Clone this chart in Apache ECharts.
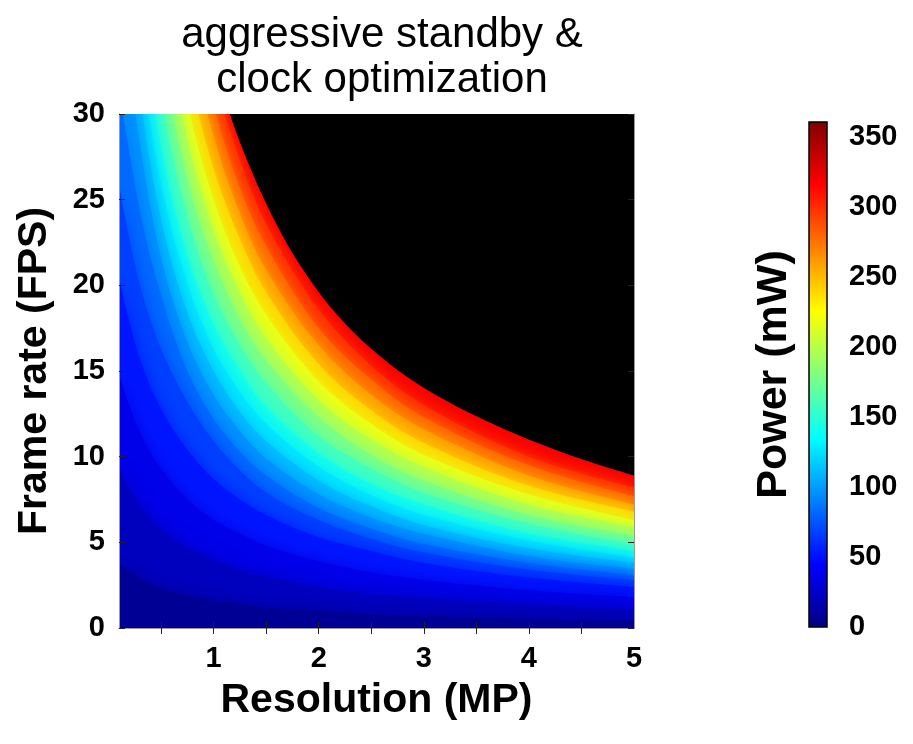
<!doctype html>
<meta charset="utf-8">
<style>
  html, body { margin: 0; padding: 0; width: 100%; height: 100%; background: #fff; }
  #chart { width: 913px; height: 744px; }
</style>
<script src="https://cdn.jsdelivr.net/npm/echarts@6/dist/echarts.min.js"></script>

<div id="chart"></div>

<script>
  const resolution = [0.1, 0.3, 0.5, 0.75, 1, 1.25, 1.5, 2, 2.5, 3, 4, 5];

  // power levels of the contours (mW)
  const powerLevels = [15, 30, 45, 60, 75, 90, 105, 120, 135, 150, 170, 190, 210, 230, 250, 270, 290, 310];

  // frame rate (FPS) where each power contour crosses each resolution column
  const fpsAt15  = [3.7, 2.9, 2.3, 1.9, 1.6, 1.4, 1.2, 1.0, 0.8, 0.7, 0.55, 0.45];
  const fpsAt30  = [9.3, 7.1, 5.8, 4.7, 4.0, 3.4, 3.0, 2.4, 2.0, 1.75, 1.4, 1.1];
  const fpsAt45  = [14.8, 11.4, 9.3, 7.5, 6.3, 5.5, 4.8, 3.9, 3.25, 2.8, 2.2, 1.8];
  const fpsAt60  = [20.4, 15.7, 12.8, 10.4, 8.7, 7.5, 6.6, 5.3, 4.5, 3.8, 2.95, 2.4];
  const fpsAt75  = [25.9, 20.0, 16.3, 13.2, 10.9, 9.2, 7.9, 6.3, 5.2, 4.4, 3.4, 2.8];
  const fpsAt90  = [31.5, 24.3, 19.4, 15.0, 12.2, 10.3, 8.9, 7.0, 5.8, 4.9, 3.8, 3.1];
  const fpsAt105 = [37.0, 28.2, 21.6, 16.7, 13.6, 11.5, 9.9, 7.8, 6.45, 5.5, 4.2, 3.45];
  const fpsAt120 = [42.6, 31.1, 23.8, 18.4, 15.0, 12.6, 10.9, 8.6, 7.1, 6.0, 4.65, 3.8];
  const fpsAt135 = [48.1, 33.9, 25.9, 20.1, 16.3, 13.8, 11.9, 9.4, 7.75, 6.6, 5.1, 4.1];
  const fpsAt150 = [53.0, 36.7, 28.1, 21.7, 17.7, 15.0, 12.9, 10.2, 8.4, 7.2, 5.5, 4.5];
  const fpsAt170 = [58.5, 40.5, 31.0, 24.0, 19.5, 16.5, 14.3, 11.2, 9.3, 7.9, 6.1, 4.9];
  const fpsAt190 = [63.9, 44.3, 33.9, 26.2, 21.4, 18.0, 15.6, 12.3, 10.1, 8.6, 6.6, 5.4];
  const fpsAt210 = [69.4, 48.1, 36.8, 28.5, 23.2, 19.6, 16.9, 13.3, 11.0, 9.4, 7.2, 5.9];
  const fpsAt230 = [74.9, 51.9, 39.7, 30.7, 25.0, 21.1, 18.3, 14.4, 11.9, 10.1, 7.8, 6.3];
  const fpsAt250 = [80.3, 55.7, 42.6, 32.9, 26.8, 22.7, 19.6, 15.4, 12.7, 10.8, 8.3, 6.8];
  const fpsAt270 = [85.8, 59.5, 45.5, 35.2, 28.7, 24.2, 20.9, 16.5, 13.6, 11.6, 8.9, 7.2];
  const fpsAt290 = [91.3, 63.3, 48.4, 37.4, 30.5, 25.7, 22.3, 17.5, 14.5, 12.3, 9.5, 7.7];
  const fpsAt310 = [96.7, 67.0, 51.3, 39.7, 32.3, 27.3, 23.6, 18.6, 15.3, 13.0, 10.0, 8.2];
  const contourFps = [fpsAt15, fpsAt30, fpsAt45, fpsAt60, fpsAt75, fpsAt90, fpsAt105, fpsAt120, fpsAt135,
                      fpsAt150, fpsAt170, fpsAt190, fpsAt210, fpsAt230, fpsAt250, fpsAt270, fpsAt290, fpsAt310];

  // edge of the black (not reachable) region
  const limitRes = [1.0, 1.155, 1.38, 1.62, 1.82, 2.13, 2.5, 2.98, 3.66, 4.34, 5];
  const limitFps = [33.5, 30, 26.4, 23.3, 21.2, 18.6, 16.3, 14.1, 11.9, 10.2, 8.9];

  // axes
  const xLabels = [1, 2, 3, 4, 5];
  const xTicks = [0.5, 1, 1.5, 2, 2.5, 3, 3.5, 4, 4.5];
  const colorbarMax = 361;

  const FONT = 'Liberation Sans';

  // matlab jet colormap
  function jet(v) {
    let x = v / colorbarMax;
    let c = t => Math.round(255 * Math.max(0, Math.min(1, t)));
    return 'rgb(' + c(Math.min(4 * x - 1.5, -4 * x + 4.5)) + ',' +
      c(Math.min(4 * x - 0.5, -4 * x + 3.5)) + ',' +
      c(Math.min(4 * x + 0.5, -4 * x + 2.5)) + ')';
  }
  const jetStops = [0, 1 / 8, 3 / 8, 5 / 8, 7 / 8, 1].map(o => ({ offset: o, color: jet(o * colorbarMax) }));

  // filled contours: highest level first, each lower one painted over it
  let series = [];
  for (let i = powerLevels.length - 1; i >= 0; i--) {
    let band = jet(((i > 0 ? powerLevels[i - 1] : 0) + powerLevels[i]) / 2);
    series.push({
      type: 'line',
      data: resolution.map((r, j) => [r, contourFps[i][j]]),
      smooth: 0.35,
      symbol: 'none',
      silent: true,
      lineStyle: { width: 0 },
      areaStyle: { color: band, opacity: 1, origin: 'start', shadowColor: band, shadowBlur: 16 }
    });
  }
  series.push({
    type: 'line',
    data: limitRes.map((r, j) => [r, limitFps[j]]),
    smooth: 0.35,
    symbol: 'none',
    silent: true,
    lineStyle: { width: 0 },
    areaStyle: { color: '#000', opacity: 1, origin: 'end' }
  });
  // colour bar
  series.push({
    type: 'custom',
    xAxisIndex: 2,
    yAxisIndex: 2,
    silent: true,
    data: [[0, colorbarMax]],
    renderItem: function (params, api) {
      let p0 = api.coord([0, 0]);
      let p1 = api.coord([1, colorbarMax]);
      return {
        type: 'rect',
        shape: { x: p0[0], y: p1[1], width: p1[0] - p0[0], height: p0[1] - p1[1] },
        style: {
          fill: new echarts.graphic.LinearGradient(0, 1, 0, 0, jetStops),
          stroke: '#000',
          lineWidth: 1.5
        }
      };
    }
  });

  const tickLabel = { fontFamily: FONT, fontWeight: 'bold', fontSize: 29, color: '#000' };
  const axisName = { fontFamily: FONT, fontWeight: 'bold', fontSize: 41, color: '#000' };
  const innerTick = { show: true, inside: true, length: 6, lineStyle: { color: '#222', width: 1 } };
  const frame = { show: true, lineStyle: { color: '#999', width: 1 } };

  let chart = echarts.init(document.getElementById('chart'));
  chart.setOption({
    animation: false,
    backgroundColor: '#fff',
    title: {
      text: 'aggressive standby &\nclock optimization',
      left: 377,
      top: 8,
      textAlign: 'center',
      textStyle: { fontFamily: FONT, fontWeight: 'normal', fontSize: 42, lineHeight: 45, color: '#000' }
    },
    grid: [
      { left: 119, top: 114, width: 515, height: 514, show: true, backgroundColor: jet(318), borderWidth: 0 },
      { left: 809, top: 122, width: 18, height: 505 }
    ],
    xAxis: [
      {
        type: 'value', gridIndex: 0, min: 0.1, max: 5, position: 'bottom', z: 10,
        axisLine: frame,
        axisTick: Object.assign({ customValues: xTicks }, innerTick),
        axisLabel: Object.assign({ customValues: xLabels, margin: 16 }, tickLabel),
        splitLine: { show: false },
        name: 'Resolution (MP)', nameLocation: 'middle', nameGap: 52, nameTextStyle: axisName
      },
      {
        type: 'value', gridIndex: 0, min: 0.1, max: 5, position: 'top', z: 10,
        axisLine: frame,
        axisTick: Object.assign({ customValues: xTicks }, innerTick),
        axisLabel: { show: false },
        splitLine: { show: false }
      },
      { type: 'value', gridIndex: 1, min: 0, max: 1, show: false }
    ],
    yAxis: [
      {
        type: 'value', gridIndex: 0, min: 0, max: 30, interval: 5, position: 'left', z: 10,
        axisLine: frame,
        axisTick: innerTick,
        axisLabel: Object.assign({ margin: 14 }, tickLabel),
        splitLine: { show: false },
        name: 'Frame rate (FPS)', nameLocation: 'middle', nameGap: 64, nameTextStyle: axisName
      },
      {
        type: 'value', gridIndex: 0, min: 0, max: 30, interval: 5, position: 'right', z: 10,
        axisLine: frame,
        axisTick: innerTick,
        axisLabel: { show: false },
        splitLine: { show: false }
      },
      {
        type: 'value', gridIndex: 1, min: 0, max: colorbarMax, interval: 50, position: 'right',
        axisLine: { show: false },
        axisTick: { show: false },
        splitLine: { show: false },
        axisLabel: Object.assign({
          margin: 22,
          formatter: v => (v % 50 === 0 ? String(v) : '')
        }, tickLabel)
      },
      {
        type: 'value', gridIndex: 1, min: 0, max: colorbarMax, position: 'left',
        axisLine: { show: false },
        axisTick: { show: false },
        axisLabel: { show: false },
        splitLine: { show: false },
        name: 'Power (mW)', nameLocation: 'middle', nameGap: 13,
        nameTextStyle: Object.assign({}, axisName, { fontSize: 43 })
      }
    ],
    series: series
  });
</script>
